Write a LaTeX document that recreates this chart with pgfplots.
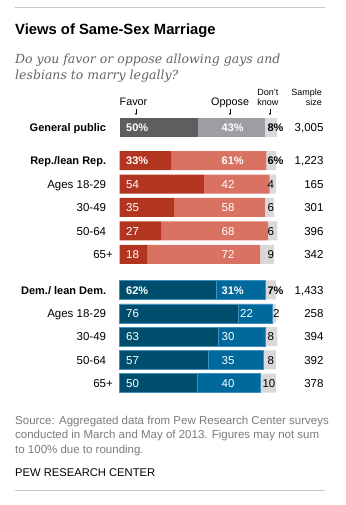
\documentclass[border=0pt]{standalone}
\usepackage{pgfplots}
\pgfplotsset{compat=1.18}
\usepackage{pgfplotstable}
\usepackage{fontspec}
\setmainfont{Liberation Sans}
\newfontfamily\subfont{DejaVu Serif}
\usetikzlibrary{arrows.meta}

\definecolor{genF}{HTML}{5E5E5E}
\definecolor{genO}{HTML}{9C9EA1}
\definecolor{dkG}{HTML}{D9D9D9}
\definecolor{repF}{HTML}{B2361F}
\definecolor{repO}{HTML}{DA7263}
\definecolor{demF}{HTML}{004E6E}
\definecolor{demO}{HTML}{00699B}
\definecolor{demL}{HTML}{3F8FBF}
\definecolor{rulec}{HTML}{C8C8C8}
\definecolor{subg}{HTML}{636363}
\definecolor{srcg}{HTML}{7A7A7A}

% yy = bar centre (505 - pixel row), values in percent
\pgfplotstableread{
yy fav opp dk
377.7 50 43 8
}\tabgen
\pgfplotstableread{
yy fav opp dk
344.3 33 61 6
320.9 54 42 4
297.5 35 58 6
274.1 27 68 6
250.7 18 72 9
}\tabrep
\pgfplotstableread{
yy fav opp dk
215.0 62 31 7
191.7 76 22 2
168.4 63 30 8
145.1 57 35 8
121.8 50 40 10
}\tabdem

\pgfplotsset{
  frame/.style={hide axis, scale only axis,
    width=346bp, height=505bp, xmin=-76.46, xmax=144.91, ymin=0, ymax=505,
    clip=false, at={(0,0)}, anchor=south west},
  mybars/.style={frame, xbar stacked, bar width=19},
}
\tikzset{
  rl/.style={font=\fontsize{11.5bp}{13bp}\selectfont, inner sep=0},
  bl/.style={font=\fontsize{11bp}{13bp}\selectfont\bfseries, inner sep=0},
}

\begin{document}
\begin{tikzpicture}
\path[use as bounding box] (0,0) rectangle (346bp,505bp);

% general public
\begin{axis}[mybars]
\addplot[fill=genF, draw=none] table[x=fav,y=yy]{\tabgen};
\addplot[fill=genO, draw=none] table[x=opp,y=yy]{\tabgen};
\addplot[fill=dkG, draw=none] table[x=dk,y=yy]{\tabgen};
\end{axis}

% Republicans
\begin{axis}[mybars]
\addplot[fill=repF, draw=none] table[x=fav,y=yy]{\tabrep};
\addplot[fill=repO, draw=none] table[x=opp,y=yy]{\tabrep};
\addplot[fill=dkG, draw=none] table[x=dk,y=yy]{\tabrep};
\end{axis}

% Democrats
\begin{axis}[mybars]
\addplot[fill=demF, draw=demL, line width=0.5bp] table[x=fav,y=yy]{\tabdem};
\addplot[fill=demO, draw=demL, line width=0.5bp] table[x=opp,y=yy]{\tabdem};
\addplot[fill=dkG, draw=none] table[x=dk,y=yy]{\tabdem};
\end{axis}

% labels
\begin{axis}[frame]
\addplot[draw=none] coordinates {(0,0)};
\node[bl, anchor=base east] at (axis cs:-8.45,373.5) {General public};
\node[bl, anchor=base west, text=white] at (axis cs:4.16,373.5) {50\%};
\node[bl, anchor=base west, text=white] at (axis cs:65.26,373.5) {43\%};
\node[bl, anchor=base west] at (axis cs:94.56,373.5) {8\%};
\node[rl, anchor=base east] at (axis cs:130.6,373.5) {3,005};

\node[bl, anchor=base east] at (axis cs:-8.45,340.1) {Rep./lean Rep.};
\node[bl, anchor=base west, text=white] at (axis cs:4.16,340.1) {33\%};
\node[bl, anchor=base west, text=white] at (axis cs:65.26,340.1) {61\%};
\node[bl, anchor=base west] at (axis cs:94.56,340.1) {6\%};
\node[rl, anchor=base east] at (axis cs:130.6,340.1) {1,223};
\node[rl, anchor=base east] at (axis cs:-8.45,316.7) {Ages 18-29};
\node[rl, anchor=base west, text=white] at (axis cs:4.16,316.7) {54};
\node[rl, anchor=base west, text=white] at (axis cs:65.26,316.7) {42};
\node[rl, anchor=base east] at (axis cs:98.98,316.7) {4};
\node[rl, anchor=base east] at (axis cs:130.6,316.7) {165};
\node[rl, anchor=base east] at (axis cs:-8.45,293.3) {30-49};
\node[rl, anchor=base west, text=white] at (axis cs:4.16,293.3) {35};
\node[rl, anchor=base west, text=white] at (axis cs:65.26,293.3) {58};
\node[rl, anchor=base east] at (axis cs:98.98,293.3) {6};
\node[rl, anchor=base east] at (axis cs:130.6,293.3) {301};
\node[rl, anchor=base east] at (axis cs:-8.45,269.9) {50-64};
\node[rl, anchor=base west, text=white] at (axis cs:4.16,269.9) {27};
\node[rl, anchor=base west, text=white] at (axis cs:65.26,269.9) {68};
\node[rl, anchor=base east] at (axis cs:98.98,269.9) {6};
\node[rl, anchor=base east] at (axis cs:130.6,269.9) {396};
\node[rl, anchor=base east] at (axis cs:-4.16,246.5) {65+};
\node[rl, anchor=base west, text=white] at (axis cs:4.16,246.5) {18};
\node[rl, anchor=base west, text=white] at (axis cs:65.26,246.5) {72};
\node[rl, anchor=base east] at (axis cs:98.98,246.5) {9};
\node[rl, anchor=base east] at (axis cs:130.6,246.5) {342};

\node[bl, anchor=base east] at (axis cs:-8.45,210.8) {Dem./ lean Dem.};
\node[bl, anchor=base west, text=white] at (axis cs:4.16,210.8) {62\%};
\node[bl, anchor=base west, text=white] at (axis cs:65.26,210.8) {31\%};
\node[bl, anchor=base west] at (axis cs:94.56,210.8) {7\%};
\node[rl, anchor=base east] at (axis cs:130.6,210.8) {1,433};
\node[rl, anchor=base east] at (axis cs:-8.45,187.5) {Ages 18-29};
\node[rl, anchor=base west, text=white] at (axis cs:4.16,187.5) {76};
\node[rl, anchor=base west, text=white] at (axis cs:77.1,187.5) {22};
\node[rl, anchor=base west] at (axis cs:98.2,187.5) {2};
\node[rl, anchor=base east] at (axis cs:130.6,187.5) {258};
\node[rl, anchor=base east] at (axis cs:-8.45,164.2) {30-49};
\node[rl, anchor=base west, text=white] at (axis cs:4.16,164.2) {63};
\node[rl, anchor=base west, text=white] at (axis cs:65.26,164.2) {30};
\node[rl, anchor=base east] at (axis cs:98.98,164.2) {8};
\node[rl, anchor=base east] at (axis cs:130.6,164.2) {394};
\node[rl, anchor=base east] at (axis cs:-8.45,140.9) {50-64};
\node[rl, anchor=base west, text=white] at (axis cs:4.16,140.9) {57};
\node[rl, anchor=base west, text=white] at (axis cs:65.26,140.9) {35};
\node[rl, anchor=base east] at (axis cs:98.98,140.9) {8};
\node[rl, anchor=base east] at (axis cs:130.6,140.9) {392};
\node[rl, anchor=base east] at (axis cs:-4.16,117.6) {65+};
\node[rl, anchor=base west, text=white] at (axis cs:4.16,117.6) {50};
\node[rl, anchor=base west, text=white] at (axis cs:65.26,117.6) {40};
\node[rl, anchor=base east] at (axis cs:99.8,117.6) {10};
\node[rl, anchor=base east] at (axis cs:130.6,117.6) {378};
\end{axis}

% frame texts
\draw[rulec, line width=1bp] (15bp,497.7bp) -- (325bp,497.7bp);
\draw[rulec, line width=1bp] (15bp,14bp) -- (325bp,14bp);
\node[anchor=base west, inner sep=0, font=\fontsize{14.8bp}{17bp}\selectfont\bfseries] at (15bp,470bp) {Views of Same-Sex Marriage};
\node[anchor=base west, inner sep=0, text=subg, font=\fontsize{12.5bp}{15bp}\subfont\itshape] at (15bp,441.7bp) {Do you favor or oppose allowing gays and};
\node[anchor=base west, inner sep=0, text=subg, font=\fontsize{12.5bp}{15bp}\subfont\itshape] at (15bp,425.7bp) {lesbians to marry legally?};

\node[anchor=base west, inner sep=0, font=\fontsize{10.8bp}{13bp}\selectfont] at (119.5bp,399.5bp) {Favor};
\node[anchor=base west, inner sep=0, font=\fontsize{10.8bp}{13bp}\selectfont] at (211bp,399.5bp) {Oppose};
\node[anchor=base east, inner sep=0, font=\fontsize{9bp}{10bp}\selectfont] at (278.5bp,409.5bp) {Don't};
\node[anchor=base east, inner sep=0, font=\fontsize{9bp}{10bp}\selectfont] at (278.5bp,399.5bp) {know};
\node[anchor=base east, inner sep=0, font=\fontsize{9bp}{10bp}\selectfont] at (322bp,409.5bp) {Sample};
\node[anchor=base east, inner sep=0, font=\fontsize{9bp}{10bp}\selectfont] at (322bp,399.5bp) {size};
\draw[line width=0.5bp, -{Stealth[length=2bp,width=2.2bp]}] (136bp,396bp) -- (136bp,390bp);
\draw[line width=0.5bp, -{Stealth[length=2bp,width=2.2bp]}] (230bp,396bp) -- (230bp,390bp);
\draw[line width=0.5bp, -{Stealth[length=2bp,width=2.2bp]}] (270bp,396bp) -- (270bp,390bp);

\node[anchor=base west, inner sep=0, text=srcg, font=\fontsize{11.5bp}{13bp}\selectfont] at (15bp,80.7bp) {Source: Aggregated data from Pew Research Center surveys};
\node[anchor=base west, inner sep=0, text=srcg, font=\fontsize{11.5bp}{13bp}\selectfont] at (15bp,66.2bp) {conducted in March and May of 2013. Figures may not sum};
\node[anchor=base west, inner sep=0, text=srcg, font=\fontsize{11.5bp}{13bp}\selectfont] at (15bp,51.7bp) {to 100\% due to rounding.};
\node[anchor=base west, inner sep=0, font=\fontsize{11.2bp}{12bp}\selectfont] at (15bp,29bp) {PEW RESEARCH CENTER};
\end{tikzpicture}
\end{document}
